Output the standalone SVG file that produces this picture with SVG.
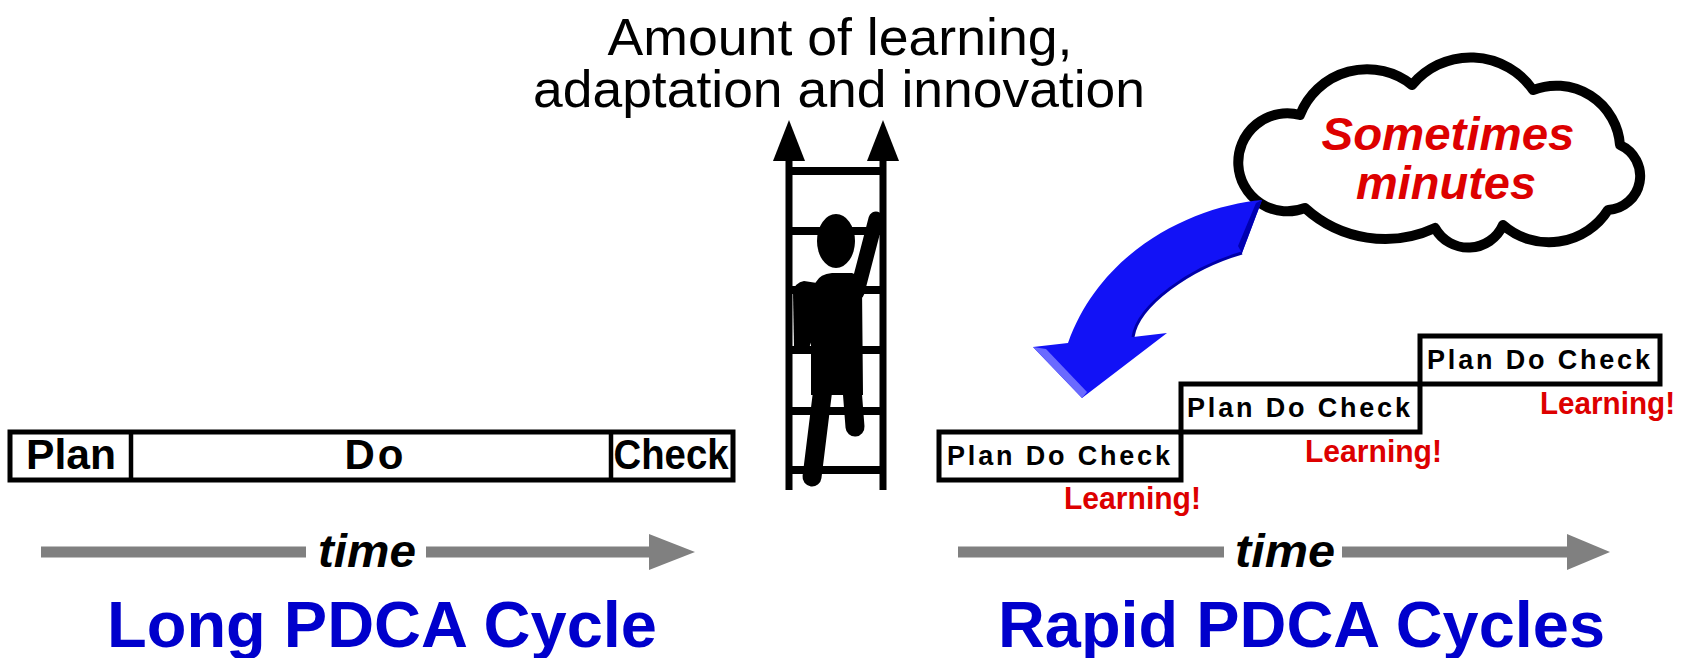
<svg xmlns="http://www.w3.org/2000/svg" width="1683" height="658" viewBox="0 0 1683 658">
  <style>
    .box { fill: #ffffff; stroke: #000000; stroke-width: 5; }
    .div { stroke: #000000; stroke-width: 4.5; }
    .bar-txt { font-family: "Liberation Sans", Arial, sans-serif; font-weight: bold; font-size: 42px; fill: #000000; text-anchor: middle; }
    .step-txt { font-family: "Liberation Sans", Arial, sans-serif; font-weight: bold; font-size: 27px; fill: #000000; }
    .learn { font-family: "Liberation Sans", Arial, sans-serif; font-weight: bold; font-size: 32px; fill: #dd0000; }
    .time { font-family: "Liberation Sans", Arial, sans-serif; font-weight: bold; font-style: italic; font-size: 46px; fill: #000000; text-anchor: middle; }
    .title { font-family: "Liberation Sans", Arial, sans-serif; font-weight: bold; font-size: 64px; fill: #0000cc; }
    .head { font-family: "Liberation Sans", Arial, sans-serif; font-size: 52px; fill: #000000; text-anchor: middle; }
    .cloud-txt { font-family: "Liberation Sans", Arial, sans-serif; font-weight: bold; font-style: italic; font-size: 46px; fill: #dd0000; text-anchor: middle; }
    .gray { fill: #808080; }
    .rail { stroke: #000000; stroke-width: 7; }
    .rung { stroke: #000000; stroke-width: 8; }
    .limb { stroke: #000000; stroke-linecap: round; fill: none; }
  </style>

  <rect width="1683" height="658" fill="#ffffff"/>

  <!-- axis caption -->
  <g id="axis-label">
    <text class="head" x="840" y="55" textLength="465" lengthAdjust="spacingAndGlyphs">Amount of learning,</text>
    <text class="head" x="839" y="107" textLength="612" lengthAdjust="spacingAndGlyphs">adaptation and innovation</text>
  </g>

  <!-- long single cycle bar -->
  <g id="long-cycle">
    <rect class="box" x="10" y="432" width="723" height="48"/>
    <line class="div" x1="131" y1="432" x2="131" y2="480"/>
    <line class="div" x1="611" y1="432" x2="611" y2="480"/>
    <text class="bar-txt" x="71" y="469" textLength="90" lengthAdjust="spacingAndGlyphs">Plan</text>
    <text class="bar-txt" x="374" y="469" textLength="59" lengthAdjust="spacing">Do</text>
    <text class="bar-txt" x="671" y="469" textLength="115" lengthAdjust="spacingAndGlyphs">Check</text>
  </g>

  <!-- ladder with climbing figure -->
  <g id="ladder">
    <line class="rail" x1="789" y1="155" x2="789" y2="490"/>
    <line class="rail" x1="883" y1="155" x2="883" y2="490"/>
    <polygon points="773,161 789,120 805,161" fill="#000000"/>
    <polygon points="867,161 883,120 899,161" fill="#000000"/>
    <line class="rung" x1="789" y1="171" x2="883" y2="171"/>
    <line class="rung" x1="789" y1="231" x2="883" y2="231"/>
    <line class="rung" x1="789" y1="290" x2="883" y2="290"/>
    <line class="rung" x1="789" y1="350" x2="883" y2="350"/>
    <line class="rung" x1="789" y1="411" x2="883" y2="411"/>
    <line class="rung" x1="789" y1="470" x2="883" y2="470"/>
    <g id="climber" fill="#000000">
      <ellipse cx="836" cy="241" rx="19" ry="27"/>
      <path d="M816,282 Q820,274 832,273 L852,273 Q861,275 862,287 L863,395 L811,395 L811,302 Q811,288 816,282 Z"/>
      <line class="limb" x1="857" y1="292" x2="876" y2="219" stroke-width="15"/>
      <path d="M794,348 L793,293 Q795,282 804,281 L817,283 L815,332 L809,348 Z"/>
      <line class="limb" x1="823" y1="388" x2="812" y2="477" stroke-width="19"/>
      <line class="limb" x1="852" y1="388" x2="855" y2="427" stroke-width="19"/>
    </g>
  </g>

  <!-- thought cloud -->
  <g id="cloud">
    <path d="M1300,115 A72,72 0 0 1 1412,85 A76,76 0 0 1 1533,90 A64,64 0 0 1 1620,145 A34,34 0 0 1 1608,210 A70,70 0 0 1 1503,225 A38,38 0 0 1 1435,228 A119,119 0 0 1 1305,208 A49,49 0 1 1 1300,115 Z" fill="#ffffff" stroke="#000000" stroke-width="10" stroke-linejoin="round"/>
    <text class="cloud-txt" x="1448" y="150" textLength="253" lengthAdjust="spacingAndGlyphs">Sometimes</text>
    <text class="cloud-txt" x="1446" y="199" textLength="180" lengthAdjust="spacingAndGlyphs">minutes</text>
  </g>

  <!-- rapid cycle steps -->
  <g id="step-1">
    <rect class="box" x="939" y="432" width="242" height="48"/>
    <text class="step-txt" x="947" y="465" textLength="223" lengthAdjust="spacing">Plan Do Check</text>
  </g>
  <g id="step-2">
    <rect class="box" x="1181" y="384" width="239" height="48"/>
    <text class="step-txt" x="1187" y="417" textLength="223" lengthAdjust="spacing">Plan Do Check</text>
  </g>
  <g id="step-3">
    <rect class="box" x="1420" y="336" width="240" height="48"/>
    <text class="step-txt" x="1427" y="369" textLength="223" lengthAdjust="spacing">Plan Do Check</text>
  </g>

  <g id="learning-labels">
    <text class="learn" x="1064" y="509" textLength="137" lengthAdjust="spacingAndGlyphs">Learning!</text>
    <text class="learn" x="1305" y="462" textLength="137" lengthAdjust="spacingAndGlyphs">Learning!</text>
    <text class="learn" x="1540" y="414" textLength="135" lengthAdjust="spacingAndGlyphs">Learning!</text>
  </g>

  <!-- section titles -->
  <g id="titles">
    <text class="title" x="107" y="647" textLength="550" lengthAdjust="spacingAndGlyphs">Long PDCA Cycle</text>
    <text class="title" x="998" y="647" textLength="607" lengthAdjust="spacingAndGlyphs">Rapid PDCA Cycles</text>
  </g>

  <!-- connectors: time axes and curved pointer -->
  <g id="connectors">
    <g id="time-long">
      <rect class="gray" x="41" y="546.5" width="265" height="11"/>
      <rect class="gray" x="426" y="546.5" width="225" height="11"/>
      <polygon class="gray" points="649,534 695,552 649,570"/>
      <text class="time" x="367" y="567" textLength="98" lengthAdjust="spacingAndGlyphs">time</text>
    </g>
    <g id="time-rapid">
      <rect class="gray" x="958" y="546.5" width="266" height="11"/>
      <rect class="gray" x="1342" y="546.5" width="227" height="11"/>
      <polygon class="gray" points="1567,534 1610,552 1567,570"/>
      <text class="time" x="1285" y="567" textLength="100" lengthAdjust="spacingAndGlyphs">time</text>
    </g>
    <g id="pointer">
      <path d="M1262,200 C1195,206 1102,248 1068,343 L1033,347 L1082,398 L1167,333 L1133,337 C1138,305 1190,268 1242,253 Z" fill="#1212f6"/>
      <polygon points="1033,347 1046,349 1087,392 1082,398" fill="#6a6aff"/>
      <path d="M1133,337 C1138,305 1190,268 1242,253" fill="none" stroke="#0000a8" stroke-width="3"/>
      <polygon points="1262,200 1242,253 1238,246 1256,203" fill="#0000b0"/>
    </g>
  </g>
</svg>
